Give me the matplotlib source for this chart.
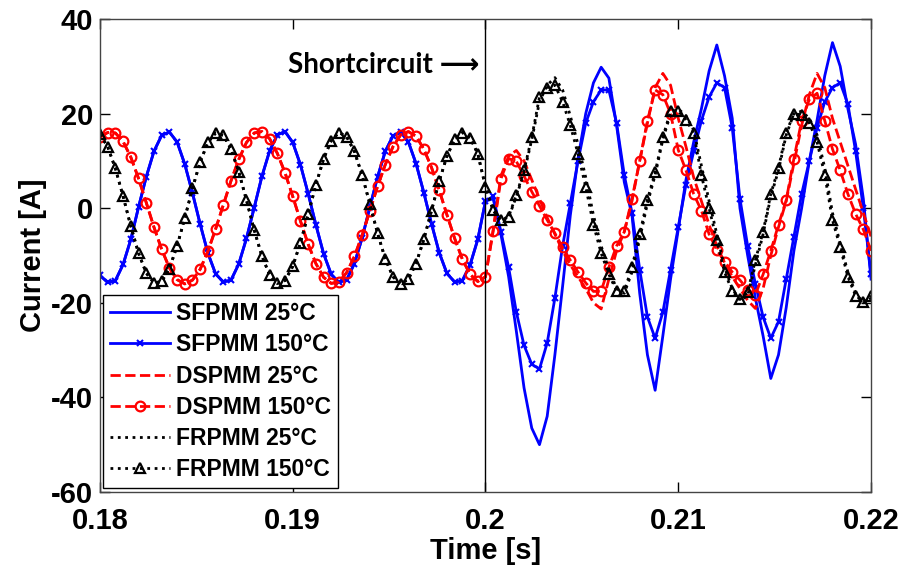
import numpy as np
import matplotlib
matplotlib.use("Agg")
import matplotlib.pyplot as plt

# time grid (sample step 0.4 ms), before and after the short circuit at t = 0.2 s
t_pre = np.round(0.18 + 0.0004 * np.arange(50), 4)
t_post = np.round(0.2 + 0.0004 * np.arange(51), 4)

# steady state before the fault (same for 25 and 150 degC)
sf_pre = [-14.2, -15.7, -15.3, -11.9, -6.6, 0.2, 6.6, 12.0, 15.4, 16.1, 14.0, 9.3, 3.2, -3.4, -9.5,
          -13.9, -15.6, -15.2, -11.8, -6.4, 0.1, 6.7, 12.1, 15.5, 16.2, 13.9, 9.2, 3.1, -3.5, -9.6,
          -14.0, -15.7, -15.1, -11.7, -6.3, 0.2, 6.6, 12.0, 15.3, 16.1, 14.0, 9.4, 3.3, -3.3, -9.4,
          -13.8, -15.6, -15.3, -12.0, -6.6]
dsp_pre = [15.0, 16.0, 15.9, 14.1, 10.8, 6.3, 1.2, -4.0, -8.7, -12.6,
           -15.1, -16.0, -15.2, -12.9, -9.1, -4.4, 0.7, 5.8, 10.3, 13.9,
           15.9, 16.2, 14.7, 11.6, 7.5, 2.5, -2.7, -7.6, -11.7, -14.6,
           -15.9, -15.6, -13.6, -10.2, -5.7, -0.6, 4.6, 9.2, 13.0, 15.5,
           16.2, 15.2, 12.5, 8.6, 3.8, -1.4, -6.4, -10.8, -14.0, -15.5]
fr_pre = [15.6, 13.0, 8.4, 2.5, -3.8, -9.5, -13.7, -15.8, -15.5, -12.8,
          -8.0, -2.1, 4.2, 9.8, 13.9, 15.9, 15.4, 12.5, 7.7, 1.7,
          -4.6, -10.1, -14.1, -15.9, -15.3, -12.3, -7.3, -1.3, 4.9, 10.4,
          14.3, 16.0, 15.1, 12.0, 7.0, 0.9, -5.3, -10.7, -14.5, -16.0,
          -15.0, -11.7, -6.6, -0.5, 5.7, 11.0, 14.6, 16.0, 14.9, 11.5]

# after the fault
sf25_post = [1.5, 2.0, -5.5, -14.5, -26.0, -38.0, -46.5, -50.0, -44.0, -31.0,
             -16.5, -1.5, 10.5, 20.0, 26.5, 29.8, 27.5, 17.5, 5.5, -1.5,
             -18.0, -31.0, -38.5, -27.0, -15.0, -4.5, 6.0, 14.0, 21.0, 29.0,
             34.5, 28.0, 19.0, 0.0, -10.0, -19.0, -27.0, -36.0, -31.0, -21.0,
             -9.0, 0.0, 10.0, 18.6, 28.0, 35.0, 30.0, 21.0, 13.5, 2.0,
             -15.0]
sf150_post = [1.5, 2.5, -5.0, -12.5, -22.0, -29.0, -33.0, -34.0, -28.5, -19.0,
              -8.0, 1.0, 10.0, 18.0, 22.5, 25.0, 25.0, 18.0, 7.0, -1.0,
              -13.0, -23.0, -27.5, -22.0, -13.0, -4.0, 5.0, 12.0, 18.5, 23.5,
              26.5, 25.5, 17.0, 2.0, -8.0, -16.0, -23.0, -27.5, -24.0, -15.0,
              -6.0, 3.0, 10.0, 17.0, 22.5, 25.5, 26.5, 22.0, 12.0, 0.0,
              -14.0]
dsp25_post = [-14.5, -4.5, 6.8, 11.0, 12.2, 10.0, 6.0, 2.0, -2.0, -5.5,
              -9.0, -12.0, -14.5, -17.0, -20.0, -21.3, -15.0, -9.0, -5.0, 1.5,
              10.0, 18.0, 25.5, 28.5, 26.0, 19.0, 13.0, 6.5, 1.5, -3.5,
              -8.0, -11.5, -14.5, -17.0, -19.5, -21.2, -17.0, -10.0, -4.0, 1.5,
              9.5, 17.5, 24.0, 28.5, 25.5, 19.0, 14.0, 9.0, 4.0, -1.0,
              -6.0]
dsp150_post = [-14.5, -4.8, 6.2, 10.5, 9.9, 6.8, 3.5, 0.5, -2.5, -5.3,
               -8.3, -11.0, -13.5, -15.8, -17.6, -17.5, -12.5, -8.0, -5.0, 2.0,
               10.0, 18.5, 25.0, 24.0, 20.0, 12.3, 8.0, 3.0, -0.5, -5.5,
               -8.8, -11.3, -13.5, -15.2, -17.2, -18.3, -14.0, -9.0, -3.5, 1.7,
               10.5, 18.5, 23.0, 24.3, 18.5, 12.5, 8.0, 3.0, -1.2, -4.5,
               -9.0]
fr25_post = [4.5, -0.5, -2.8, -2.0, 2.5, 7.5, 14.5, 22.5, 26.0, 27.6,
             25.0, 19.5, 13.5, 6.5, -1.5, -8.0, -13.0, -17.0, -18.0, -13.5,
             -6.5, 1.0, 7.0, 14.5, 20.0, 21.0, 19.5, 16.5, 9.0, 1.5,
             -5.5, -12.5, -17.0, -19.5, -18.5, -12.0, -5.5, 2.5, 8.0, 15.5,
             20.0, 20.5, 19.0, 15.5, 8.5, -1.0, -7.5, -13.5, -18.0, -20.0,
             -19.0]
fr150_post = [4.5, -0.4, -2.5, -1.8, 2.8, 8.0, 15.0, 23.5, 25.5, 26.0,
              22.5, 17.5, 11.5, 4.5, -3.5, -9.5, -14.0, -17.5, -17.5, -12.5,
              -5.5, 1.8, 7.6, 15.0, 20.5, 20.5, 18.7, 15.9, 7.0, 0.0,
              -6.8, -13.5, -17.5, -19.3, -17.8, -11.0, -5.0, 3.0, 8.5, 16.0,
              20.0, 19.7, 18.0, 14.0, 7.0, -2.5, -8.2, -14.5, -18.5, -19.8,
              -18.5]

t = np.concatenate([t_pre, t_post])

plt.rcParams["font.family"] = ["Liberation Sans", "DejaVu Sans"]
plt.rcParams["font.weight"] = "bold"
plt.rcParams["axes.unicode_minus"] = False

fig = plt.figure(figsize=(9.03, 5.72), dpi=100)
ax = fig.add_axes([0.1107, 0.1399, 0.8539, 0.8269])

lw = 2
ax.plot(t, sf_pre + sf25_post, "-", color="#0000ff", lw=lw, label="SFPMM 25°C")
ax.plot(t, sf_pre + sf150_post, "-x", color="#0000ff", lw=lw, ms=5, mew=1.5,
        label="SFPMM 150°C")
ax.plot(t, dsp_pre + dsp25_post, "--", color="#ff0000", lw=lw, label="DSPMM 25°C")
ax.plot(t, dsp_pre + dsp150_post, "--o", color="#ff0000", lw=lw, ms=7, mew=1.6,
        mfc="none", label="DSPMM 150°C")
ax.plot(t, fr_pre + fr25_post, ":", color="black", lw=lw, label="FRPMM 25°C")
ax.plot(t, fr_pre + fr150_post, ":^", color="black", lw=lw, ms=7.5, mew=1.6,
        mfc="none", label="FRPMM 150°C")

ax.axvline(0.2, color="black", lw=1)
ax.text(0.1997, 30.2, "Shortcircuit \u27f6", ha="right", va="center", fontsize=20,
        fontweight="bold", family=["Lato", "DejaVu Sans"])

ax.set_xlim(0.18, 0.22)
ax.set_ylim(-60, 40)
ax.set_xticks([0.18, 0.19, 0.2, 0.21, 0.22])
ax.set_xticklabels(["0.18", "0.19", "0.2", "0.21", "0.22"])
ax.set_yticks([-60, -40, -20, 0, 20, 40])
ax.tick_params(direction="in", length=7, width=1, top=True, right=True,
               labelsize=21)
ax.tick_params(axis="x", pad=11)
ax.tick_params(axis="y", pad=5)
for s in ax.spines.values():
    s.set_linewidth(1)
    s.set_color("#444444")

ax.set_xlabel("Time [s]", fontsize=21, fontweight="bold", labelpad=1)
ax.set_ylabel("Current [A]", fontsize=21, fontweight="bold", labelpad=3)

leg = ax.legend(loc="lower left", bbox_to_anchor=(0.004, 0.008), borderaxespad=0,
                fontsize=16.5, handlelength=2.6, handletextpad=0.3, labelspacing=0.36,
                fancybox=False, framealpha=1, edgecolor="black", borderpad=0.3)
leg.get_frame().set_linewidth(1)

fig.savefig("out.png", dpi=100)
